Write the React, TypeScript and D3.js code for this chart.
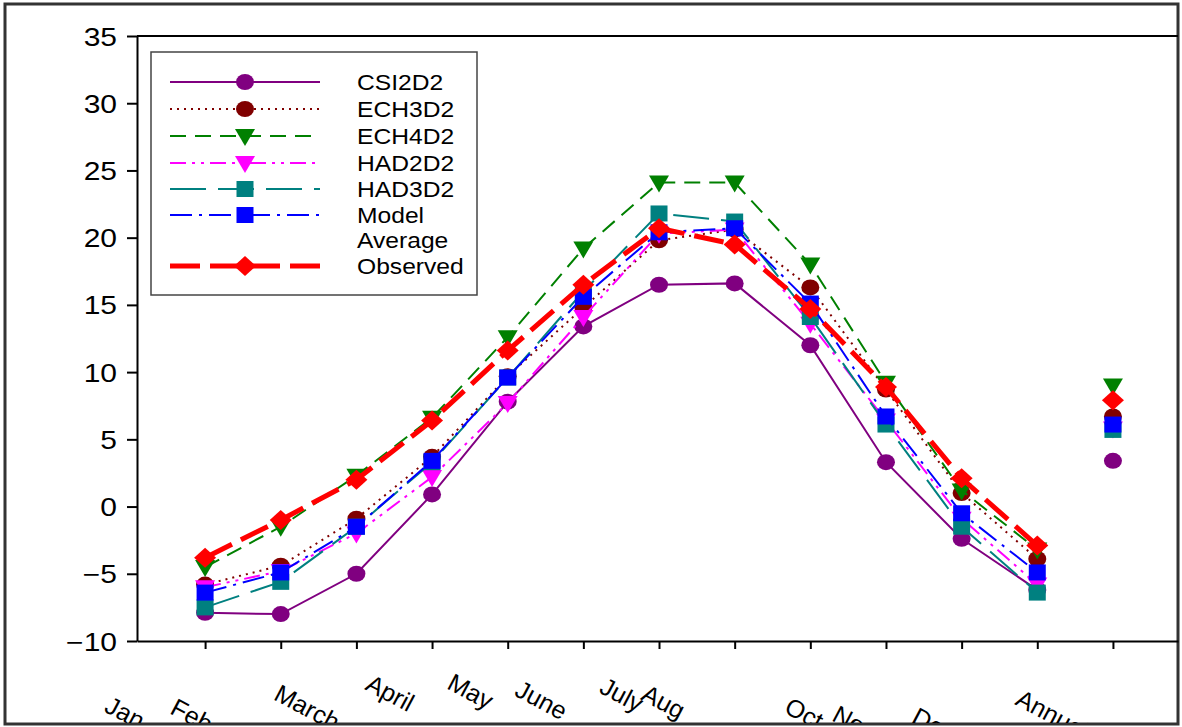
import React, { useEffect, useRef } from 'react';
import * as d3 from 'd3';

const months = ["Jan", "Feb", "March", "April", "May", "June", "July", "Aug", "Sept", "Oct", "Nov", "Dec", "Annual"];

const csi2d2 = [-7.9, -8.0, -5.0, 0.9, 7.8, 13.4, 16.5, 16.6, 12.0, 3.3, -2.4, -6.2, 3.4];
const ech3d2 = [-5.8, -4.4, -0.9, 3.7, 9.7, 14.8, 19.8, 20.6, 16.3, 8.7, 1.0, -3.9, 6.7];
const ech4d2 = [-4.5, -1.5, 2.3, 6.6, 12.6, 19.2, 24.1, 24.1, 18.0, 9.2, 1.2, -3.2, 9.0];
const had2d2 = [-6.0, -4.8, -2.0, 2.2, 7.7, 14.1, 20.3, 20.6, 13.6, 6.4, -0.9, -5.8, 5.8];
const had3d2 = [-7.5, -5.6, -1.5, 3.3, 9.6, 16.0, 21.8, 21.2, 14.1, 6.1, -1.5, -6.4, 5.7];
const modelAverage = [-6.4, -4.9, -1.5, 3.4, 9.6, 15.6, 20.4, 20.7, 15.1, 6.7, -0.5, -4.9, 6.1];
const observed = [-3.8, -1.0, 2.0, 6.4, 11.6, 16.5, 20.7, 19.5, 14.7, 8.9, 2.1, -2.9, 7.9];

const yTicks = [-10, -5, 0, 5, 10, 15, 20, 25, 30, 35];

// slanted month labels: start of baseline relative to tick / axis
const labelDx = [-102, -112, -84, -68, -62, -70, -61, -95, -84, -103, -131, -127, -99];
const labelDy = [70, 72, 58, 48, 47, 54, 51, 58, 95, 71, 79, 81, 63];

const series = [
  { name: "CSI2D2", values: csi2d2, color: "#800080", dash: null, width: 2, shape: "circle" },
  { name: "ECH3D2", values: ech3d2, color: "#800000", dash: "2,5", width: 2, shape: "circle" },
  { name: "ECH4D2", values: ech4d2, color: "#008000", dash: "16,9", width: 2, shape: "triangle" },
  { name: "HAD2D2", values: had2d2, color: "#FF00FF", dash: "16,6,3,6,3,6", width: 2, shape: "triangle" },
  { name: "HAD3D2", values: had3d2, color: "#008080", dash: "36,12", width: 2, shape: "square" },
  { name: "Model|Average", values: modelAverage, color: "#0000FF", dash: "22,7,3,7", width: 2, shape: "square" },
  { name: "Observed", values: observed, color: "#FF0000", dash: "30,10", width: 5, shape: "diamond" },
];

function markerPath(shape: string) {
  if (shape === "circle") return "M-9,0 A9,8 0 1,0 9,0 A9,8 0 1,0 -9,0 Z";
  if (shape === "square") return "M-8.5,-8 H8.5 V8 H-8.5 Z";
  if (shape === "triangle") return "M-10,-7 H10 L0,10 Z";
  return "M0,-10 L11,0 L0,10 L-11,0 Z";
}

function App() {
  const chartRef = useRef<HTMLDivElement>(null);

  useEffect(() => {
    const W = 1182, H = 727;
    const left = 137, right = 1178, top = 36, bottom = 641;

    d3.select(chartRef.current).selectAll("*").remove();

    const svg = d3.select(chartRef.current)
      .append("svg")
      .attr("width", W)
      .attr("height", H)
      .style("position", "absolute")
      .style("left", 0)
      .style("top", 0)
      .style("font-family", "'Liberation Sans', Arial, sans-serif");

    svg.append("defs").append("clipPath").attr("id", "frameClip")
      .append("rect").attr("x", 6).attr("y", 5).attr("width", 1171).attr("height", 718);

    svg.append("rect")
      .attr("x", 5).attr("y", 4).attr("width", 1173).attr("height", 720)
      .attr("fill", "white").attr("stroke", "#333").attr("stroke-width", 3);

    const x = d3.scaleLinear().domain([-0.9, 12.86]).range([left, right]);
    const y = d3.scaleLinear().domain([-10, 35]).range([bottom, top]);

    // top border of plot
    svg.append("line")
      .attr("x1", left).attr("x2", right)
      .attr("y1", y(35)).attr("y2", y(35))
      .attr("stroke", "black").attr("stroke-width", 2);

    const yAxis = svg.append("g")
      .attr("transform", `translate(${left},0)`)
      .call(d3.axisLeft(y).tickValues(yTicks).tickSize(10).tickSizeOuter(0).tickFormat(d3.format("d")));
    yAxis.selectAll("path, line").attr("stroke", "black").attr("stroke-width", 2);
    yAxis.selectAll("text")
      .attr("font-size", 25)
      .attr("fill", "black")
      .attr("x", -20 / 1.2)
      .attr("dy", "0.36em")
      .attr("transform", "scale(1.2,1)")
      .style("font-family", "'Liberation Sans', Arial, sans-serif");

    const xAxis = svg.append("g")
      .attr("transform", `translate(0,${bottom})`)
      .call(d3.axisBottom(x).tickValues(d3.range(months.length)).tickSize(8).tickSizeOuter(0).tickFormat(() => ""));
    xAxis.selectAll("path, line").attr("stroke", "black").attr("stroke-width", 2);

    svg.append("g")
      .attr("clip-path", "url(#frameClip)")
      .selectAll("text")
      .data(months)
      .enter().append("text")
      .attr("transform", (d, i) => `translate(${x(i) + labelDx[i]},${bottom + labelDy[i]}) rotate(28)`)
      .attr("font-size", 25)
      .attr("fill", "black")
      .text(d => d);

    const line = d3.line<number>()
      .x((d, i) => x(i))
      .y(d => y(d));

    series.forEach(s => {
      const g = svg.append("g");
      g.append("path")
        .datum(s.values.slice(0, 12))
        .attr("fill", "none")
        .attr("stroke", s.color)
        .attr("stroke-width", s.width)
        .attr("stroke-dasharray", s.dash)
        .attr("d", line);
      g.selectAll(".m")
        .data(s.values)
        .enter().append("path")
        .attr("class", "m")
        .attr("transform", (d, i) => `translate(${x(i)},${y(d)})`)
        .attr("d", markerPath(s.shape))
        .attr("fill", s.color);
    });

    // legend
    const lg = svg.append("g");
    lg.append("rect")
      .attr("x", 151).attr("y", 52).attr("width", 326).attr("height", 243)
      .attr("fill", "white").attr("stroke", "#444").attr("stroke-width", 1.5);

    const rowY = [82, 109, 136, 163, 189, 215, 266];
    series.forEach((s, i) => {
      const ry = rowY[i];
      lg.append("line")
        .attr("x1", 170).attr("x2", 320)
        .attr("y1", ry).attr("y2", ry)
        .attr("stroke", s.color)
        .attr("stroke-width", s.width)
        .attr("stroke-dasharray", s.dash);
      lg.append("path")
        .attr("transform", `translate(245,${ry})`)
        .attr("d", markerPath(s.shape))
        .attr("fill", s.color);
      s.name.split("|").forEach((t, k) => {
        lg.append("text")
          .attr("transform", `translate(357,${ry + 25 * k}) scale(1.12,1)`)
          .attr("dy", "0.36em")
          .attr("font-size", 22)
          .attr("fill", "black")
          .text(t);
      });
    });
  }, []);

  return <div ref={chartRef}></div>;
}

export default App;
